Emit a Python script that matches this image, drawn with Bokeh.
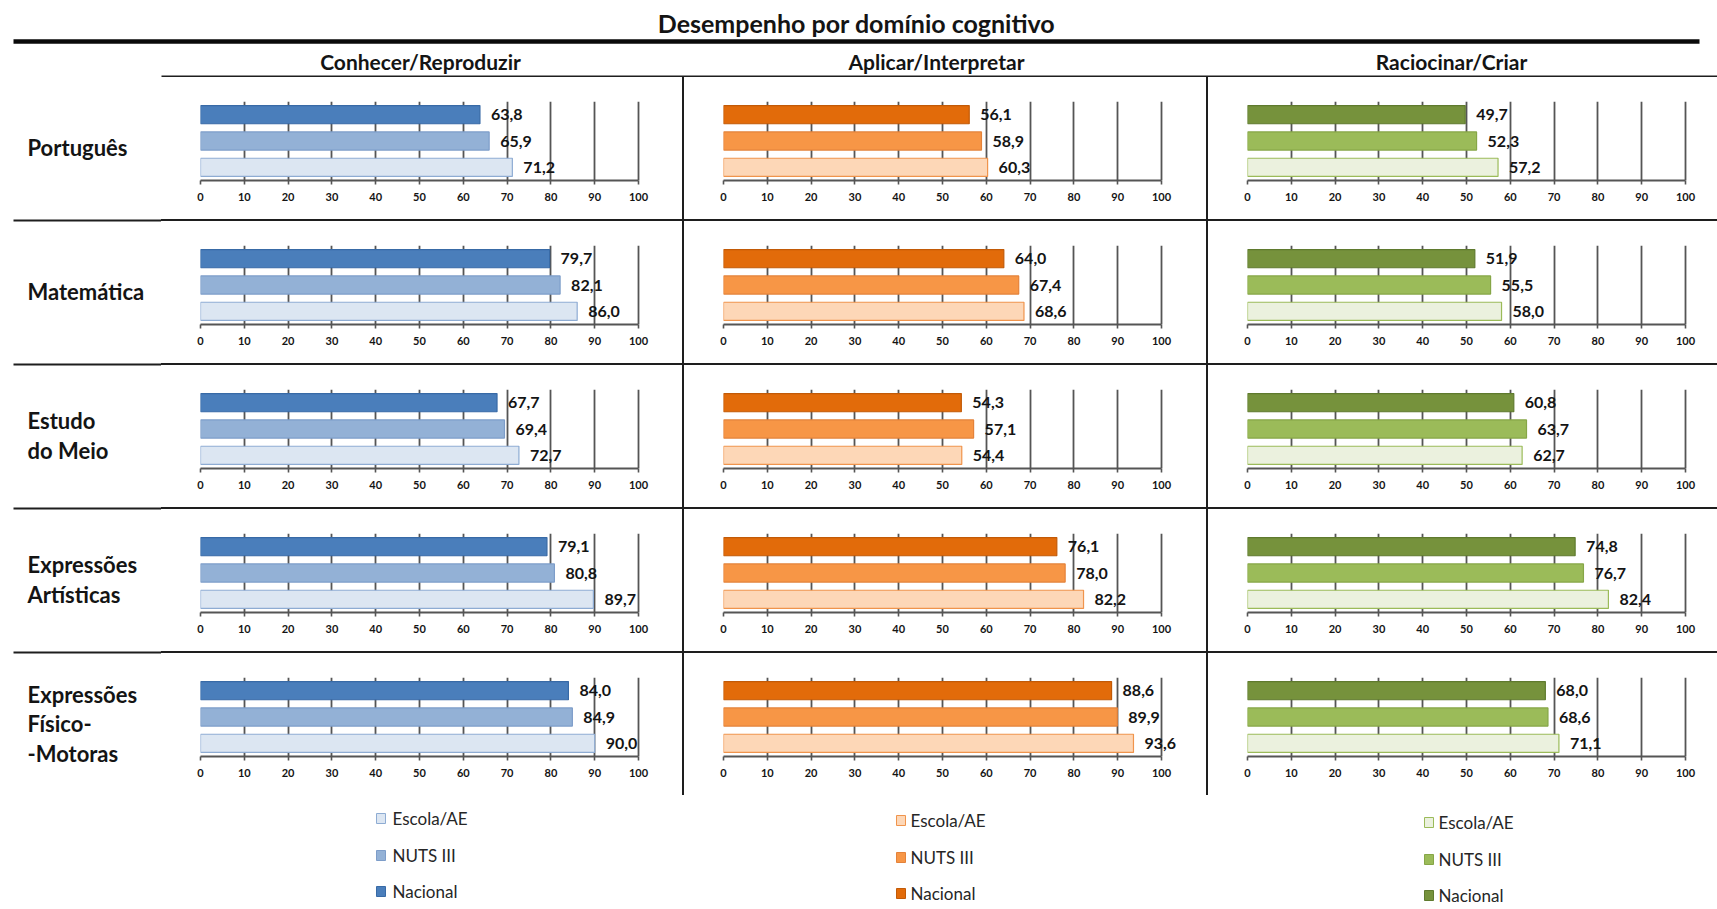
from bokeh.plotting import figure
from bokeh.layouts import column, row
from bokeh.models import Range1d, FactorRange, FixedTicker, Spacer, ColumnDataSource
from bokeh.core.properties import value
from bokeh.embed import file_html
from bokeh.resources import INLINE

# ---------------- data ----------------
title_text = "Desempenho por domínio cognitivo"
domains = ["Conhecer/Reproduzir", "Aplicar/Interpretar", "Raciocinar/Criar"]
subjects = ["Português", "Matemática", "Estudo do Meio", "Expressões Artísticas", "Expressões Físico-Motoras"]
subject_lines = [["Português"], ["Matemática"], ["Estudo", "do Meio"],
                 ["Expressões", "Artísticas"], ["Expressões", "Físico-", "-Motoras"]]
series = ["Nacional", "NUTS III", "Escola/AE"]
legend_order = ["Escola/AE", "NUTS III", "Nacional"]
ticks = [0, 10, 20, 30, 40, 50, 60, 70, 80, 90, 100]

conhecer_nacional = [63.8, 79.7, 67.7, 79.1, 84.0]
conhecer_nuts = [65.9, 82.1, 69.4, 80.8, 84.9]
conhecer_escola = [71.2, 86.0, 72.7, 89.7, 90.0]
aplicar_nacional = [56.1, 64.0, 54.3, 76.1, 88.6]
aplicar_nuts = [58.9, 67.4, 57.1, 78.0, 89.9]
aplicar_escola = [60.3, 68.6, 54.4, 82.2, 93.6]
raciocinar_nacional = [49.7, 51.9, 60.8, 74.8, 68.0]
raciocinar_nuts = [52.3, 55.5, 63.7, 76.7, 68.6]
raciocinar_escola = [57.2, 58.0, 62.7, 82.4, 71.1]

values = {
    0: {"Nacional": conhecer_nacional, "NUTS III": conhecer_nuts, "Escola/AE": conhecer_escola},
    1: {"Nacional": aplicar_nacional, "NUTS III": aplicar_nuts, "Escola/AE": aplicar_escola},
    2: {"Nacional": raciocinar_nacional, "NUTS III": raciocinar_nuts, "Escola/AE": raciocinar_escola},
}

fills = [
    {"Nacional": "#4A7EBB", "NUTS III": "#93B1D6", "Escola/AE": "#DCE6F2"},
    {"Nacional": "#E26B0A", "NUTS III": "#F79646", "Escola/AE": "#FDD7B7"},
    {"Nacional": "#76923C", "NUTS III": "#9BBB59", "Escola/AE": "#EBF1DE"},
]
lines = [
    {"Nacional": "#386AA6", "NUTS III": "#7D9DC9", "Escola/AE": "#8EACD3"},
    {"Nacional": "#C25A07", "NUTS III": "#E4823A", "Escola/AE": "#F0944C"},
    {"Nacional": "#5F7A2E", "NUTS III": "#86A647", "Escola/AE": "#9BBB59"},
]

# ---------------- style / layout ----------------
FONT = "Lato"
SEP = "#1E1E1E"
GRID = "#555555"
TXT = "#141414"
ROW_H = 142
SEP_H = 2
TOP_B = 24
BOT_B = 39
CELL_W = [521, 522, 509]
LEFT_PAD = 39
SCALE_W = 438  # pixels from 0 to 100
LABEL_W = 161
GRID_TOP = 77
N = len(subjects)
GRID_H = N * ROW_H + (N - 1) * SEP_H


def deco_fig(w, h, x0, x1, y0, y1, **kw):
    f = figure(width=w, height=h, x_range=Range1d(x0, x1), y_range=Range1d(y1, y0),
               x_axis_type=None, y_axis_type=None, toolbar_location=None,
               output_backend="svg", outline_line_color=None, min_border=0, **kw)
    f.grid.visible = False
    return f


# header (page coordinates 0..1717 x 0..77)
header = deco_fig(1717, GRID_TOP, 0, 1717, 0, GRID_TOP)
header.text(x=[856], y=[22], text=[title_text], text_font=value(FONT), text_font_style="bold",
            text_font_size="25px", text_align="center", text_baseline="middle", text_color=TXT)
header.segment(x0=[13], y0=[41], x1=[1699], y1=[41], line_width=4.5, line_color="#0A0A0A")
header.text(x=[420, 936, 1451], y=[61, 61, 61], text=domains, text_font=value(FONT),
            text_font_style="bold", text_font_size="21px", text_align="center",
            text_baseline="middle", text_color=TXT)
header.segment(x0=[161], y0=[76], x1=[1717], y1=[76], line_width=2, line_color=SEP)


def panel(c, r):
    w = CELL_W[c]
    frame_w = w - LEFT_PAD
    p = figure(width=w, height=ROW_H, x_range=Range1d(0, 100 * frame_w / SCALE_W),
               y_range=FactorRange(factors=list(reversed(series))),
               y_axis_location=None, toolbar_location=None, output_backend="svg",
               min_border_left=LEFT_PAD, min_border_right=0, min_border_top=TOP_B,
               min_border_bottom=BOT_B, outline_line_color=None)
    vals = [values[c][s][r] for s in series]
    src = ColumnDataSource(dict(
        cat=series, val=vals,
        fill=[fills[c][s] for s in series], line=[lines[c][s] for s in series],
        lab=[f"{v:.1f}".replace(".", ",") for v in vals]))
    p.hbar(y="cat", right="val", left=0, height=0.69, fill_color="fill", line_color="line",
           line_width=1.2, source=src)
    p.text(x="val", y="cat", text="lab", source=src, x_offset=11, text_baseline="middle",
           text_align="left", text_font=value(FONT), text_font_style="bold",
           text_font_size="16px", text_color=TXT)
    ax = p.xaxis[0]
    ax.ticker = FixedTicker(ticks=ticks)
    ax.bounds = (0, 100)
    ax.axis_line_color = GRID
    ax.axis_line_width = 1.8
    ax.major_tick_line_color = GRID
    ax.major_tick_line_width = 1.6
    ax.major_tick_out = 4
    ax.major_tick_in = 0
    ax.minor_tick_line_color = None
    ax.major_label_standoff = 8
    ax.major_label_text_font = FONT
    ax.major_label_text_font_style = "bold"
    ax.major_label_text_font_size = "11px"
    ax.major_label_text_color = TXT
    p.xgrid.ticker = FixedTicker(ticks=ticks)
    p.xgrid.grid_line_color = GRID
    p.xgrid.grid_line_width = 1.8
    p.ygrid.grid_line_color = None
    return p


# row labels: one tall figure in page coordinates, with the left part of the row separators
labels = deco_fig(LABEL_W, GRID_H, 0, LABEL_W, GRID_TOP, GRID_TOP + GRID_H)
lx, ly, lt = [], [], []
for r in range(N):
    top = GRID_TOP + r * (ROW_H + SEP_H)
    ls = subject_lines[r]
    n = len(ls)
    for i, ln in enumerate(ls):
        lx.append(27)
        ly.append(top + 70 + (i - (n - 1) / 2) * 29.5)
        lt.append(ln)
labels.text(x=lx, y=ly, text=lt, text_font=value(FONT), text_font_style="bold",
            text_font_size="22px", text_align="left", text_baseline="middle", text_color=TXT)
sep_y = [GRID_TOP + (r + 1) * ROW_H + r * SEP_H + SEP_H / 2 for r in range(N - 1)]
labels.segment(x0=[13] * len(sep_y), y0=sep_y, x1=[LABEL_W] * len(sep_y), y1=sep_y,
               line_width=SEP_H, line_color=SEP)


def vsep():
    return Spacer(width=2, height=ROW_H, styles={"background-color": SEP})


def hsep():
    return Spacer(width=1717 - LABEL_W, height=SEP_H, styles={"background-color": SEP})


right_items = []
for r in range(N):
    right_items.append(row(panel(0, r), vsep(), panel(1, r), vsep(), panel(2, r), spacing=0))
    if r < N - 1:
        right_items.append(hsep())

body = row(labels, column(*right_items, spacing=0), spacing=0)

# legend (page coordinates 795..909)
leg_top = GRID_TOP + GRID_H
leg = deco_fig(1717, 909 - leg_top, 0, 1717, leg_top, 909)
leg_sq_x = [380.5, 900.5, 1428.5]
leg_tx_x = [392, 910, 1438]
leg_y = [[818, 855, 891], [820, 857, 893], [822, 859, 895]]
for c in range(3):
    leg.rect(x=[leg_sq_x[c]] * 3, y=leg_y[c], width=9, height=10, width_units="screen",
             height_units="screen", fill_color=[fills[c][s] for s in legend_order],
             line_color=[lines[c][s] for s in legend_order], line_width=1)
    leg.text(x=[leg_tx_x[c]] * 3, y=leg_y[c], text=legend_order, text_font=value(FONT),
             text_font_size="17px", text_baseline="middle", text_align="left",
             text_color="#262626")

layout = column(header, body, leg, spacing=0)
open("out.html", "w").write(file_html(layout, INLINE))
